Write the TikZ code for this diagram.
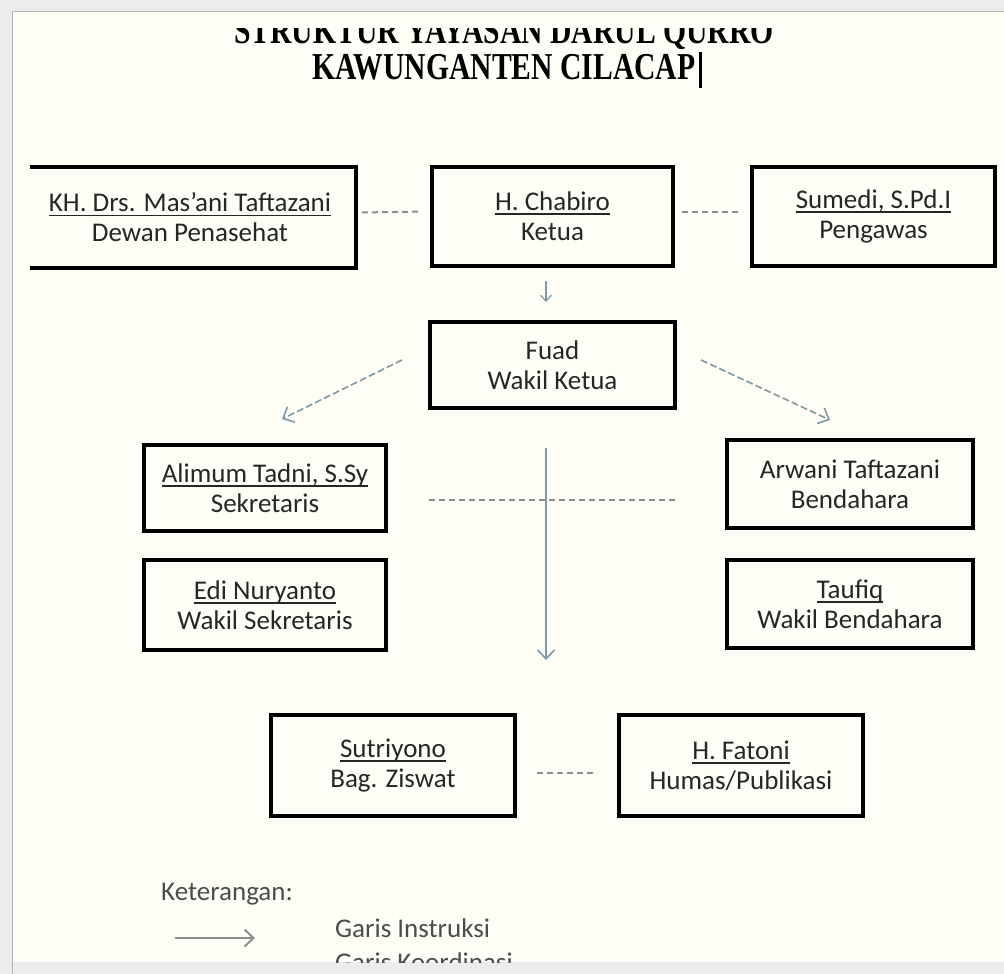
\documentclass[tikz,border=0pt]{standalone}
\usepackage{fontspec}
\setmainfont{Carlito}
\newfontfamily\judulfont{Liberation Serif}
\usepackage{xcolor}
\usetikzlibrary{arrows.meta,calc}

\definecolor{kertas}{HTML}{FFFEF6}
\definecolor{pinggir}{HTML}{ECECEC}
\definecolor{garisabu}{HTML}{8E8E8E}
\definecolor{garisbiru}{HTML}{7F98A4}

\newcommand{\nama}[1]{\sbox0{#1}\rlap{\rule[-4.5pt]{\wd0}{1.8pt}}\usebox0}

\tikzset{
  kotak/.style={draw=black, line width=4pt, align=center, inner sep=0pt,
    minimum width=244pt, minimum height=90pt, text=black!85,
    font=\fontsize{27}{30}\selectfont},
  judul/.style={anchor=base, inner sep=0pt, font=\judulfont\bfseries\fontsize{38}{38}\selectfont},
  koordinasi/.style={draw=garisabu, line width=2pt, dash pattern=on 6pt off 4pt},
  instruksi/.style={draw=garisbiru, line width=1.6pt, -{Straight Barb[length=9pt,width=17pt]}},
  ket/.style={anchor=west, inner sep=0pt, text=black!70, font=\fontsize{27}{30}\selectfont}
}

\begin{document}
\begin{tikzpicture}[x=1pt,y=-1pt]
  \useasboundingbox (0,0) rectangle (1004,974);
  \fill[pinggir] (0,0) rectangle (1004,974);
  \fill[kertas] (12,12) rectangle (1004,962);
  \draw[black!30, line width=1pt] (12,974) -- (12,12) -- (1004,12);

  \begin{scope}
    \clip (0,29) rectangle (1004,974);
    \node[judul] (judula) at (504,44) {\scalebox{0.78}[1]{STRUKTUR YAYASAN DARUL QURRO}};
  \end{scope}
  \node[judul] (judulb) at (504,80) {\scalebox{0.78}[1]{KAWUNGANTEN CILACAP}};
  \draw[line width=2.5pt] ($(judulb.base east)+(5,8)$) -- ++(0,-36);

  \begin{scope}
    \clip (30,0) rectangle (1004,974);
    \node[kotak, minimum width=332pt, minimum height=101pt] (dewan) at (190,217.5)
      {\nama{KH. Drs. Mas'ani Taftazani}\\ Dewan Penasehat};
  \end{scope}
  \node[kotak, minimum width=241pt, minimum height=99pt] (ketua) at (552.5,216.5) {\nama{H. Chabiro}\\ Ketua};
  \node[kotak, minimum width=243pt, minimum height=99pt] (pengawas) at (873.5,216.5) {\nama{Sumedi, S.Pd.I}\\ Pengawas};
  \node[kotak, minimum width=245pt, minimum height=86pt] (wakil) at (552.5,365) {Fuad\\ Wakil Ketua};
  \node[kotak, minimum width=242pt, minimum height=86pt] (sek) at (265,488) {\nama{Alimum Tadni, S.Sy}\\ Sekretaris};
  \node[kotak, minimum width=242pt, minimum height=90pt] (wsek) at (265,605) {\nama{Edi Nuryanto}\\ Wakil Sekretaris};
  \node[kotak, minimum width=246pt, minimum height=88pt] (bend) at (850,484) {Arwani Taftazani\\ Bendahara};
  \node[kotak, minimum width=246pt, minimum height=88pt] (wbend) at (850,604) {\nama{Taufiq}\\ Wakil Bendahara};
  \node[kotak, minimum width=244pt, minimum height=101pt] (ziswat) at (393,765.5) {\nama{Sutriyono}\\ Bag. Ziswat};
  \node[kotak, minimum width=244pt, minimum height=101pt] (humas) at (741,765.5) {\nama{H. Fatoni}\\ Humas/Publikasi};
  \coordinate (bawah) at (546,660);

  \draw[koordinasi, shorten <=4pt, shorten >=10pt] ([yshift=5pt]dewan.east) -- ([yshift=5pt]ketua.west);
  \draw[koordinasi, shorten <=7pt, shorten >=8pt] ([yshift=5pt]ketua.east) -- ([yshift=5pt]pengawas.west);
  \draw[koordinasi, shorten <=41pt, shorten >=46pt] ([yshift=-12pt]sek.east) -- ([yshift=-16pt]bend.west);
  \draw[koordinasi, shorten <=20pt, shorten >=20pt] ([yshift=-7pt]ziswat.east) -- ([yshift=-7pt]humas.west);

  \draw[instruksi, line width=1.2pt, -{Straight Barb[length=6pt,width=11pt]}, shorten <=13pt, shorten >=18pt]
    (ketua.south -| bawah) -- (wakil.north -| bawah);
  \draw[instruksi, dash pattern=on 7pt off 3pt] ($(wakil.west)+(-26,-5)$) -- ($(sek.north)+(17,-24)$);
  \draw[instruksi, dash pattern=on 7pt off 3pt] ($(wakil.east)+(24,-5)$) -- ($(bend.north)+(-20,-18)$);
  \draw[instruksi, shorten <=38pt] (wakil.south -| bawah) -- (bawah);

  \begin{scope}
    \clip (0,0) rectangle (1004,962);
    \node[ket] (keterangan) at (161,894) {Keterangan:};
    \coordinate (panah1) at (175,938);
    \coordinate (panah2) at (255,938);
    \draw[draw=garisabu, line width=2pt, -{Straight Barb[length=9pt,width=17pt]}] (panah1) -- (panah2);
    \node[ket] (instruksi) at (335,928) {Garis Instruksi};
    \node[ket] (koordinasi) at (335,962) {Garis Koordinasi};
  \end{scope}
\end{tikzpicture}
\end{document}
